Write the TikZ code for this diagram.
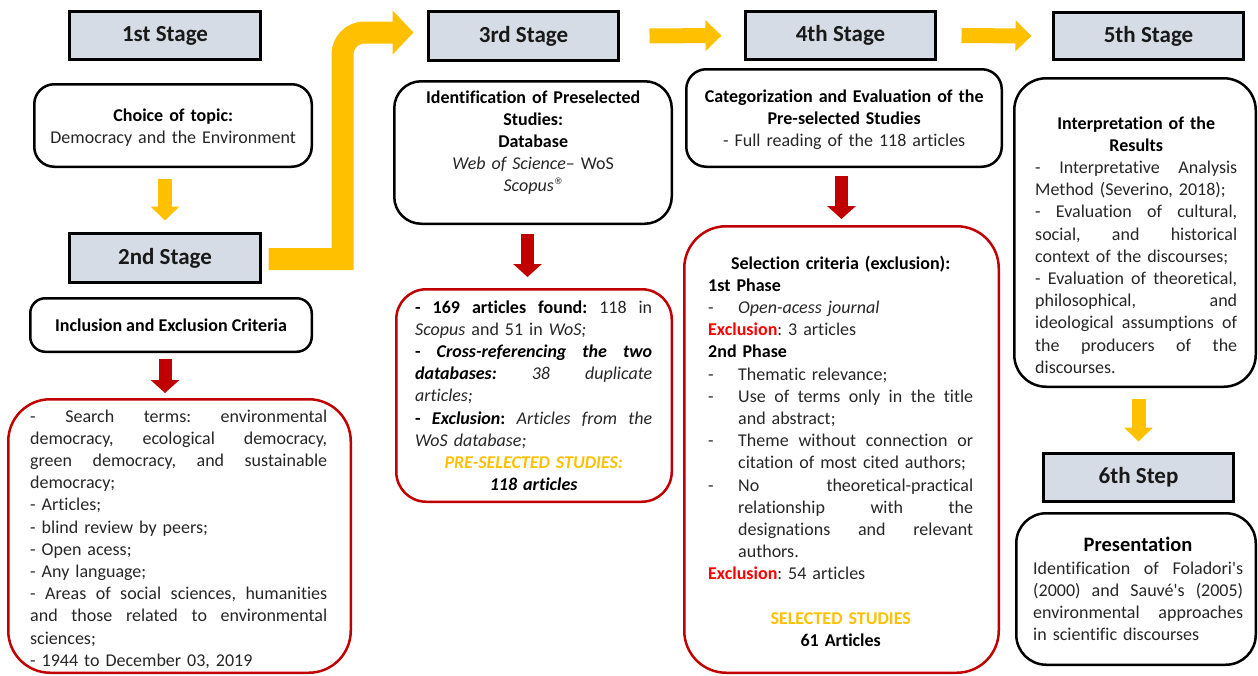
\documentclass[tikz,border=0pt]{standalone}
\usepackage{fontspec}
\setmainfont{Carlito}[Ligatures=NoCommon]
\newfontfamily\mysymf{DejaVu Sans}
\usetikzlibrary{arrows.meta,calc}
\definecolor{stagefill}{HTML}{D6DCE5}
\definecolor{yel}{HTML}{FFC000}
\definecolor{dred}{HTML}{C00000}
\definecolor{exred}{HTML}{FF0000}
\definecolor{txt}{HTML}{262626}
\frenchspacing
\newcommand\mysp{\spaceskip=\fontdimen2\font plus 1fil\relax}
\newcommand\myjl[1]{\noindent\hbox to\hsize{\mysp#1}\par}
\newcommand\myll[1]{\noindent\hbox{#1}\par}
\newcommand\mycl[1]{\noindent\hbox to\hsize{\hfil#1\hfil}\par}
\newcommand\myil[1]{\noindent\hbox to\hsize{\mysp\hbox to 30pt{-\hfil}#1}\par}
\newcommand\myii[1]{\noindent\hbox to\hsize{\hbox to 30pt{-\hfil}#1\hfil}\par}
\newcommand\mycj[1]{\noindent\hbox to\hsize{\mysp\hskip30pt #1}\par}
\newcommand\mycr[1]{\noindent\hbox to\hsize{\hskip30pt #1\hfil}\par}
\newcommand\mybf[1]{{\color{black}\bfseries #1}}
\tikzset{
  stagebox/.style={draw=black, line width=3pt, fill=stagefill, inner sep=0pt,
    font=\bfseries\fontsize{23}{28}\selectfont, text=black!90},
  bbox/.style={draw=black, line width=2.5pt, inner sep=0pt},
  rbox/.style={draw=dred, line width=2.5pt, inner sep=0pt},
  body/.style={inner sep=0pt, anchor=base west, text=txt, font=\fontsize{18}{22.2}\selectfont},
  yarrV/.style={draw=yel, line width=14pt, -{Triangle[length=14pt,width=28pt]}},
  yarrH/.style={draw=yel, line width=15pt, -{Triangle[length=16pt,width=30pt]}},
  yarrB/.style={draw=yel, line width=22pt, -{Triangle[length=21pt,width=43pt]}},
  rarr/.style={draw=dred, line width=13pt, -{Triangle[length=13pt,width=28pt]}}
}
\begin{document}
\begin{tikzpicture}[x=1pt,y=-1pt]
\useasboundingbox (0,0) rectangle (1258,675);
% stage boxes
\node[stagebox, minimum width=191pt, minimum height=48pt] (s1) at (165,35.5) {1st Stage};
\node[stagebox, minimum width=191pt, minimum height=49pt] (s2) at (165,258) {2nd Stage};
\node[stagebox, minimum width=190pt, minimum height=49pt] (s3) at (523.5,36) {3rd Stage};
\node[stagebox, minimum width=190pt, minimum height=48pt] (s4) at (840.5,35.5) {4th Stage};
\node[stagebox, minimum width=190pt, minimum height=47pt] (s5) at (1148.5,36) {5th Stage};
\node[stagebox, minimum width=190pt, minimum height=48pt] (s6) at (1138.5,477.5) {6th Step};
% black rounded boxes
\node[bbox, rounded corners=20pt, minimum width=277.5pt, minimum height=82.5pt] (topic) at (173,125.5) {};
\node[bbox, rounded corners=15pt, minimum width=281.5pt, minimum height=53.5pt] (incl) at (171,325) {};
\node[bbox, rounded corners=27pt, minimum width=277.5pt, minimum height=142.5pt] (ident) at (533,152.5) {};
\node[bbox, rounded corners=20pt, minimum width=315.5pt, minimum height=97.5pt] (categ) at (844,118) {};
\node[bbox, rounded corners=32pt, minimum width=241.5pt, minimum height=308.5pt] (interp) at (1135,232.5) {};
\node[bbox, rounded corners=30pt, minimum width=239.5pt, minimum height=151.5pt] (pres) at (1136,589) {};
% red rounded boxes
\node[rbox, rounded corners=42pt, minimum width=342.5pt, minimum height=273.5pt] (lred) at (179.5,536) {};
\node[rbox, rounded corners=30pt, minimum width=275.5pt, minimum height=212.5pt] (red3) at (534,395.5) {};
\node[rbox, rounded corners=42pt, minimum width=314.5pt, minimum height=446.5pt] (red4) at (841.5,449.5) {};
% texts
\node[body, text width=270pt] (ttopic) at (38,121) {%
\mycl{\mybf{Choice of topic:}}
\mycl{Democracy and the Environment}};
\node[inner sep=0pt, anchor=base, font=\bfseries\fontsize{18}{22.2}\selectfont] (tincl) at (171,331) {Inclusion and Exclusion Criteria};
\node[body, text width=297pt] (tlred) at (30,422) {%
\myjl{- Search terms: environmental}
\myjl{democracy, ecological democracy,}
\myjl{green democracy, and sustainable}
\myll{democracy;}
\myll{- Articles;}
\myll{- blind review by peers;}
\myll{- Open acess;}
\myll{- Any language;}
\myjl{- Areas of social sciences, humanities}
\myjl{and those related to environmental}
\myll{sciences;}
\myll{- 1944 to December 03, 2019}};
\node[body, text width=260pt] (tident) at (403,103) {%
\mycl{\mybf{Identification of Preselected}}
\mycl{\mybf{Studies:}}
\mycl{\mybf{Database}}
\mycl{\textit{Web of Science}– WoS}
\mycl{\textit{Scopus}\raisebox{0.42em}{\mysymf\fontsize{9}{9}\selectfont ®}}};
\node[body, text width=237pt] (tred3) at (415,313) {%
\myjl{\mybf{- 169 articles found:} 118 in}
\myll{\textit{Scopus} and 51 in \textit{WoS;}}
\myjl{\mybf{- \textit{Cross-referencing the two}}}
\myjl{\mybf{\textit{databases:}} \textit{38 duplicate}}
\myll{\textit{articles;}}
\myjl{\mybf{- \textit{Exclusion}:} \textit{Articles from the}}
\myll{\textit{WoS database;}}
\mycl{\color{yel}\bfseries\itshape PRE-SELECTED STUDIES:}
\mycl{\mybf{\textit{118 articles}}}};
\node[body, text width=300pt] (tcateg) at (694,102) {%
\mycl{\mybf{Categorization and Evaluation of the}}
\mycl{\mybf{Pre-selected Studies}}
\mycl{- Full reading of the 118 articles}};
\node[body, text width=265pt] (tred4) at (708,269) {%
\mycl{\mybf{Selection criteria (exclusion):}}
\myll{\mybf{1st Phase}}
\myii{\textit{Open-acess journal}}
\myll{\mybf{\color{exred}Exclusion}: 3 articles}
\myll{\mybf{2nd Phase}}
\myii{Thematic relevance;}
\myil{Use of terms only in the title}
\mycr{and abstract;}
\myil{Theme without connection or}
\mycr{citation of most cited authors;}
\myil{No theoretical-practical}
\mycj{relationship with the}
\mycj{designations and relevant}
\mycr{authors.}
\myll{\mybf{\color{exred}Exclusion}: 54 articles}
\myll{}
\mycl{\color{yel}\bfseries SELECTED STUDIES}
\mycl{\mybf{61 Articles}}};
\node[body, text width=202pt] (tinterp) at (1035,129) {%
\mycl{\mybf{Interpretation of the}}
\mycl{\mybf{Results}}
\myjl{- Interpretative Analysis}
\myll{Method (Severino, 2018);}
\myjl{- Evaluation of cultural,}
\myjl{social, and historical}
\myll{context of the discourses;}
\myjl{- Evaluation of theoretical,}
\myjl{philosophical, and}
\myjl{ideological assumptions of}
\myjl{the producers of the}
\myll{discourses.}};
\node[inner sep=0pt, anchor=base, font=\bfseries\fontsize{20.5}{24}\selectfont] (tprest) at (1138,551) {Presentation};
\node[body, text width=210pt] (tpres) at (1033,574) {%
\myjl{Identification of Foladori\textquotesingle s}
\myjl{(2000) and Sauvé\textquotesingle s (2005)}
\myjl{environmental approaches}
\myll{in scientific discourses}};
% yellow arrows
\draw[yarrV, shorten <=11pt, shorten >=11.5pt] (topic.south -| s2.north) -- (s2.north);
\coordinate (bA) at ($(s2.east)+(6.5,1)$);
\coordinate (bB) at ($(s3.west)+(-13.5,-3.5)$);
\draw[yarrB] (bA) -- (342.5,259) -- (342.5,54.5) .. controls (342.5,42.35) and (352.35,32.5) .. (364.5,32.5) -- (bB);
\draw[yarrH, shorten <=29.5pt, shorten >=22.5pt] (s3.east) -- (s4.west);
\draw[yarrH, shorten <=24.5pt, shorten >=20.5pt] (s4.east) -- (s5.west);
\draw[yarrV, shorten <=11pt, shorten >=10.5pt] (interp.south -| s6.north) -- (s6.north);
% red arrows
\draw[rarr, shorten <=6pt, shorten >=5pt] (incl.south -| s2.south) -- (lred.north -| s2.south);
\draw[rarr, shorten <=9pt, shorten >=11pt] ($(ident.south)+(-5.5,0)$) -- ($(red3.north)+(-6.5,0)$);
\draw[rarr, shorten <=8pt, shorten >=6pt] (categ.south -| red4.north) -- (red4.north);
\end{tikzpicture}
\end{document}
